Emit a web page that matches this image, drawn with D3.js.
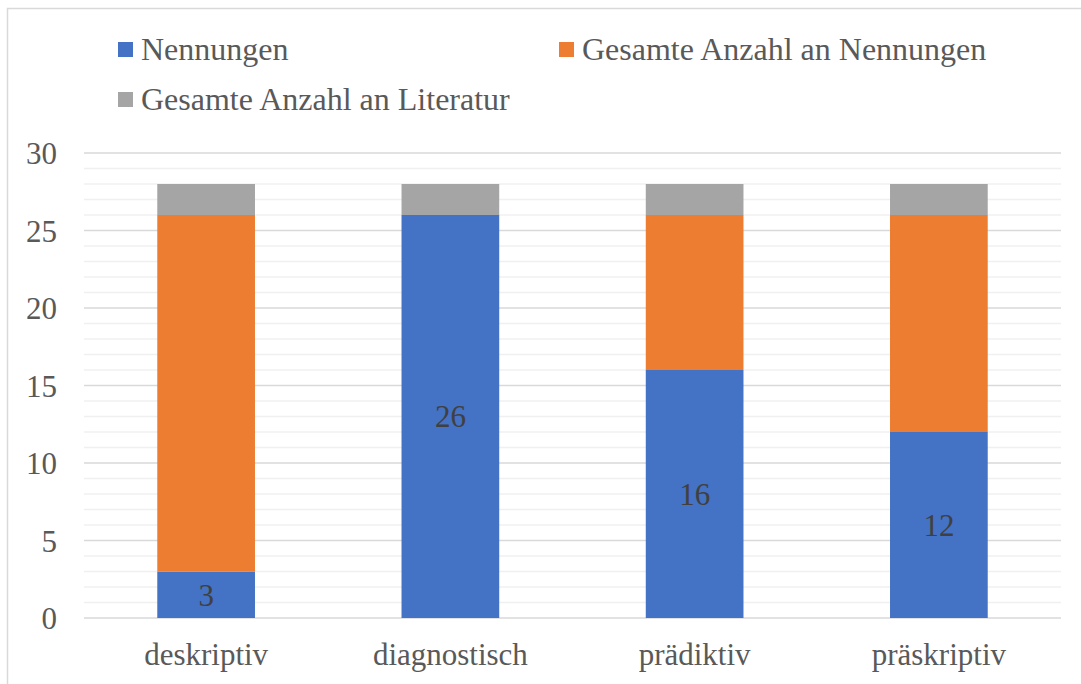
<!DOCTYPE html>
<html><head><meta charset="utf-8">
<script src="https://cdn.jsdelivr.net/npm/d3@7"></script>
<style>html,body{margin:0;padding:0;background:#fff;}svg{display:block;}</style>
</head><body>
<svg id="c" width="1081" height="684"></svg>
<script>
const categories = ["deskriptiv", "diagnostisch", "prädiktiv", "präskriptiv"];
const seriesNames = ["Nennungen", "Gesamte Anzahl an Nennungen", "Gesamte Anzahl an Literatur"];
const nennungen = [3, 26, 16, 12];
const gesamtNennungen = [23, 0, 10, 14];
const gesamtLiteratur = [2, 2, 2, 2];
const colors = ["#4472c4", "#ed7d31", "#a5a5a5"];
const yTicks = [0, 5, 10, 15, 20, 25, 30];

const FONT = '"Liberation Serif"';
const svg = d3.select("#c");

// chart border
svg.append("rect").attr("x", 7.5).attr("y", 8.5).attr("width", 1090).attr("height", 700)
  .attr("fill", "none").attr("stroke", "#d9d9d9").attr("stroke-width", 1.5);

const x = d3.scaleBand().domain(categories).range([84, 1061]).paddingInner(0.6).paddingOuter(0.3);
const y = d3.scaleLinear().domain([0, 30]).range([618, 153]);

// minor grid
svg.append("g").selectAll("line").data(d3.range(0, 31).filter(v => v % 5 !== 0)).join("line")
  .attr("x1", 84).attr("x2", 1061).attr("y1", d => y(d)).attr("y2", d => y(d))
  .attr("stroke", "#f0f0f0").attr("stroke-width", 1.5);
// major grid
svg.append("g").selectAll("line").data(yTicks).join("line")
  .attr("x1", 84).attr("x2", 1061).attr("y1", d => y(d)).attr("y2", d => y(d))
  .attr("stroke", "#d9d9d9").attr("stroke-width", 1.5);

// stacked data
const rows = categories.map((c, i) => ({cat: c, s0: nennungen[i], s1: gesamtNennungen[i], s2: gesamtLiteratur[i]}));
const stack = d3.stack().keys(["s0", "s1", "s2"])(rows);

svg.append("g").selectAll("g").data(stack).join("g")
  .attr("fill", (d, i) => colors[i])
  .selectAll("rect").data(d => d).join("rect")
  .attr("x", d => x(d.data.cat)).attr("width", x.bandwidth())
  .attr("y", d => y(d[1])).attr("height", d => y(d[0]) - y(d[1]));

// data labels on Nennungen
svg.append("g").selectAll("text").data(stack[0]).join("text")
  .attr("x", d => x(d.data.cat) + x.bandwidth() / 2)
  .attr("y", d => y((d[0] + d[1]) / 2))
  .attr("dy", "0.35em").attr("text-anchor", "middle")
  .style("font-family", FONT).style("font-size", "31px").attr("fill", "#404040")
  .text(d => d.data.s0);

// y axis labels
const yAxis = d3.axisLeft(y).tickValues(yTicks).tickSize(0).tickPadding(0);
const ga = svg.append("g").attr("transform", "translate(57,0)").call(yAxis);
ga.select(".domain").remove();
ga.selectAll("text").style("font-family", FONT).style("font-size", "31px").attr("fill", "#595959").attr("dy", "0.35em");

// x axis labels
const xAxis = d3.axisBottom(x).tickSize(0).tickPadding(0);
const gx = svg.append("g").attr("transform", "translate(0,643)").call(xAxis);
gx.select(".domain").remove();
gx.selectAll("text").style("font-family", FONT).style("font-size", "31px").attr("fill", "#595959").attr("dy", "0.71em");

// legend
const legendPos = [{x: 118, y: 42}, {x: 559, y: 42}, {x: 118, y: 92}];
const lg = svg.append("g").selectAll("g").data(seriesNames).join("g")
  .attr("transform", (d, i) => `translate(${legendPos[i].x},${legendPos[i].y})`);
lg.append("rect").attr("width", 15).attr("height", 15).attr("fill", (d, i) => colors[i]);
lg.append("text").attr("x", 23).attr("y", 18).style("font-family", FONT).style("font-size", "32px")
  .attr("fill", "#595959").text(d => d);
</script>
</body></html>
